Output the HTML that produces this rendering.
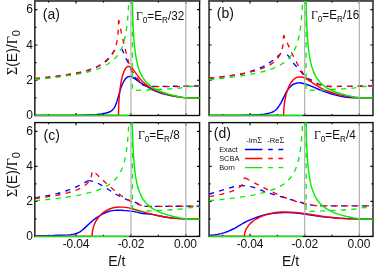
<!DOCTYPE html>
<html><head><meta charset="utf-8"><title>fig</title>
<style>
html,body{margin:0;padding:0;background:#fff;}
body{width:374px;height:271px;overflow:hidden;position:relative;font-family:"Liberation Sans",sans-serif;color:#111;}
.t{position:absolute;white-space:nowrap;line-height:1;}
#tx{position:absolute;left:0;top:0;width:374px;height:271px;will-change:transform;}
.yt{font-size:12px;width:20px;text-align:right;left:12.9px;}
.xt{font-size:12px;width:40px;text-align:center;letter-spacing:-0.15px;}
.pl{font-size:14px;}
.gm{font-size:12.8px;transform-origin:0 0;transform:scaleX(0.915);}
.sym{font-family:"Liberation Serif",serif;}
sub{font-size:0.7em;vertical-align:baseline;position:relative;top:0.33em;line-height:0;}
.yl{font-size:14px;transform-origin:0 0;transform:rotate(-90deg);}
.yl sub{font-size:0.78em;top:0.24em;}
.lg{font-size:7.4px;}
</style></head><body>
<svg width="374" height="271" viewBox="0 0 374 271" style="position:absolute;left:0;top:0">
<defs>
<clipPath id="cpa"><rect x="34.85" y="0.9" width="164.75" height="115.39999999999999"/></clipPath>
<clipPath id="cpb"><rect x="209.05" y="0.9" width="163.95" height="115.39999999999999"/></clipPath>
<clipPath id="cpc"><rect x="34.85" y="122.6" width="164.75" height="114.64999999999999"/></clipPath>
<clipPath id="cpd"><rect x="209.05" y="122.6" width="163.95" height="114.64999999999999"/></clipPath>
</defs>
<g stroke="#0a0a0a" stroke-width="1.35" fill="none">
<rect x="34.85" y="0.9" width="164.75" height="114.6"/>
<path d="M34.15,0.72H200.29999999999998" stroke="#4a4a4a" stroke-width="1.45"/>
<path d="M48.58,115.5v-1.6M48.58,0.9v1.6M76.04,115.5v-2.6M76.04,0.9v2.6M103.50,115.5v-1.6M103.50,0.9v1.6M130.95,115.5v-2.6M130.95,0.9v2.6M158.41,115.5v-1.6M158.41,0.9v1.6M185.87,115.5v-2.6M185.87,0.9v2.6M34.85,115.50h2.6M199.6,115.50h-2.6M34.85,97.87h1.6M199.6,97.87h-1.6M34.85,80.24h2.6M199.6,80.24h-2.6M34.85,62.61h1.6M199.6,62.61h-1.6M34.85,44.98h2.6M199.6,44.98h-2.6M34.85,27.35h1.6M199.6,27.35h-1.6M34.85,9.72h2.6M199.6,9.72h-2.6" stroke-width="1.2"/>
</g>
<g clip-path="url(#cpa)" fill="none" stroke-width="1.45" stroke-linejoin="round">
<path d="M34.9,115.5 76.8,115.5 90.8,114.9 96.3,114.6 98.8,114.3 101.3,114.0 103.8,113.5 106.3,113.0 107.8,112.5 109.3,112.0 110.3,111.5 111.3,110.9 112.3,110.1 112.8,109.6 113.8,108.4 114.3,107.7 115.3,105.8 116.3,103.4 116.8,101.9 117.8,98.6 119.8,91.4 120.8,88.2 122.3,84.3 123.8,81.3 124.8,79.7 125.3,79.0 126.3,77.9 126.8,77.5 127.8,76.8 128.3,76.6 129.3,76.4 129.8,76.4 130.8,76.5 131.8,76.8 132.8,77.3 134.3,78.3 138.3,81.2 140.8,82.9 142.8,84.1 146.8,86.3 150.3,88.5 152.3,89.6 154.3,90.6 156.8,91.6 159.3,92.5 162.3,93.5 166.3,94.6 170.8,95.6 176.3,96.5 182.3,97.4 184.8,97.6 187.8,97.7 202.3,97.9" stroke="#0000ff"/>
<path d="M34.9,78.6 43.9,77.7 53.9,76.6 62.9,75.4 70.8,74.1 77.3,73.3 80.3,72.7 83.3,72.0 86.8,70.9 90.8,69.4 94.8,67.8 96.8,66.9 98.3,66.1 100.3,64.9 101.8,63.9 103.3,62.9 104.8,61.7 107.3,59.4 109.8,56.8 110.8,55.5 113.3,52.1 115.8,48.9 116.8,47.7 117.3,47.2 117.8,46.9 118.3,46.8" stroke="#0000ff" stroke-width="1.35" stroke-dasharray="5.1 5.3"/>
<path d="M118.3,46.8 118.8,46.8 119.3,47.0 120.3,47.6 121.3,48.6 121.8,49.2 122.3,50.0 123.3,52.1 124.8,55.9 125.8,58.1 128.3,63.0 129.3,65.1 132.3,73.0 132.8,74.1 133.8,75.8 135.3,77.7 137.3,80.0 138.3,81.1 139.8,82.5 141.3,83.7 142.3,84.5 143.3,85.1 143.8,85.3 144.8,85.6 147.3,86.1 149.3,86.3 153.3,86.4 161.8,86.4 202.3,85.9" stroke="#0000ff" stroke-width="1.35" stroke-dasharray="5.1 5.3" stroke-dashoffset="6.50"/>
<path d="M34.9,115.5 118.5,115.5 118.7,105.3 119,100.1 119.3,96.3 119.7,92.0 120.1,88.5 120.7,84.6 121.3,80.8 122,77.6 122.9,74.6 123.7,72.2 124.5,70.2 125.3,68.8 126.3,67.6 126.7,67.2 127.2,66.8 127.8,66.5 128.3,66.4 129.2,66.5 130.1,66.8 131.1,67.5 132.2,68.5 134,70.6 138,76.1 140.2,78.9 142.5,81.4 145,83.8 147.6,85.8 150.3,87.6 153.3,89.3 156.6,90.9 159,91.8 161.6,92.7 164.3,93.6 167.2,94.4 170.4,95.2 173.7,95.9 177.1,96.6 180.4,97.2 183.1,97.5 186,97.7 191.9,97.8 202.2,97.9" stroke="#ff0000"/>
<path d="M34.9,78.6 48.6,77.2 54.9,76.5 60.7,75.7 66,74.9 71.1,74.0 75.8,73.1 80,72.2 84,71.2 87.7,70.2 91,69.1 94.2,68.0 96.9,66.8 99.5,65.5 102.4,63.9 104.6,62.5 106.5,61.1 108.2,59.6 109.8,57.8 111.2,56.1 112.4,54.2 113.5,52.2 114.5,50.1 115.4,47.5 116.1,45.1 116.8,42.1 117.4,39.0 117.8,35.8 118,33.0 118.3,28.7 118.6,19.9" stroke="#ff0000" stroke-width="1.35" stroke-dasharray="5.1 5.3"/>
<path d="M118.6,19.9 122,35.6 124.9,48.0 127.4,57.8 128.6,62.3 129.6,65.5 130.3,67.4 131.1,69.3 131.8,70.7 132.5,71.8 134.2,74.2 136,76.2 137.8,79.0 138.5,80.0 139.7,81.3 141.3,82.7 142.2,83.4 143.2,84.0 145.1,84.9 147.2,85.9 147.8,86.2 148.7,86.4 150.6,86.6 180.9,86.6 183.9,86.5 193.4,86.1 202.2,85.9" stroke="#ff0000" stroke-width="1.35" stroke-dasharray="5.1 5.3" stroke-dashoffset="1.47"/>
<path d="M34.85,115.5H129.0" stroke="#00f000" stroke-width="1.3"/>
<path d="M131.1,-25.5 131.8,-25.5 132.3,4.0 132.9,21.3 133.3,30.0 133.7,36.7 134.1,42.0 134.7,47.6 135.2,52.2 135.9,56.7 136.7,61.1 137.5,64.6 138.5,68.0 139.6,71.1 140.8,73.9 142.2,76.6 143,77.9 144,79.3 145.9,81.7 147,82.9 148.1,84.0 150.4,85.9 153.2,87.8 156.2,89.5 159.6,91.1 163.4,92.5 168,94.0 173.4,95.4 179.3,96.7 185.9,97.9 202.2,97.9" stroke="#00f000"/>
<path d="M34.9,79.5 43.9,78.7 52.1,77.8 59.8,76.9 66.8,75.9 73.3,74.9 79.2,73.8 84.5,72.7 89.5,71.5 93.9,70.2 98,68.8 101.7,67.3 105,65.7 108,64.0 110.8,62.1 113.2,60.1 115.4,57.9 117.2,55.8 118.9,53.4 120.4,50.7 121.8,47.8 122.9,44.9 124,41.4 124.9,37.6 125.7,33.6 126.4,29.4 127.1,24.1 127.7,18.7 128.2,11.8 128.6,5.1 129,-3.6 129.7,-25.5 130.8,-25.5" stroke="#00f000" stroke-width="1.35" stroke-dasharray="5.1 5.3"/>
<path d="M132.4,-1.1 132.4,90.5 152.9,89.7 169.1,88.9 175.8,88.4 181.2,87.9 184.6,87.4 187.2,86.9 190.3,86.5 195.5,86.2 202.2,86.0" stroke="#00f000" stroke-width="1.35" stroke-dasharray="5.1 5.3" stroke-dashoffset="8.76"/>
<line x1="130.95" x2="130.95" y1="0.9" y2="114.75" stroke="#aaaaaa" stroke-width="1.1"/>
<line x1="185.87" x2="185.87" y1="0.9" y2="114.75" stroke="#aaaaaa" stroke-width="1.1"/>
</g>
<g stroke="#0a0a0a" stroke-width="1.35" fill="none">
<rect x="209.05" y="0.9" width="163.95" height="114.6"/>
<path d="M208.35000000000002,0.72H373.7" stroke="#4a4a4a" stroke-width="1.45"/>
<path d="M222.71,115.5v-1.6M222.71,0.9v1.6M250.04,115.5v-2.6M250.04,0.9v2.6M277.36,115.5v-1.6M277.36,0.9v1.6M304.69,115.5v-2.6M304.69,0.9v2.6M332.01,115.5v-1.6M332.01,0.9v1.6M359.34,115.5v-2.6M359.34,0.9v2.6M209.05,115.50h2.6M373.0,115.50h-2.6M209.05,97.87h1.6M373.0,97.87h-1.6M209.05,80.24h2.6M373.0,80.24h-2.6M209.05,62.61h1.6M373.0,62.61h-1.6M209.05,44.98h2.6M373.0,44.98h-2.6M209.05,27.35h1.6M373.0,27.35h-1.6M209.05,9.72h2.6M373.0,9.72h-2.6" stroke-width="1.2"/>
</g>
<g clip-path="url(#cpb)" fill="none" stroke-width="1.45" stroke-linejoin="round">
<path d="M209.1,115.5 239.6,115.5 253.6,115.0 259.6,114.6 264.1,114.1 266.6,113.7 268.6,113.3 270.1,112.9 271.6,112.4 272.6,112.0 273.6,111.5 275.1,110.5 276.1,109.7 277.1,108.6 278.6,106.7 279.6,105.2 281.1,102.6 282.6,99.7 285.1,94.6 286.6,91.7 288.1,89.3 289.6,87.4 291.1,85.9 292.1,85.1 293.1,84.4 294.1,84.0 295.6,83.4 297.1,83.0 298.1,82.9 299.6,82.8 301.1,83.0 303.1,83.5 306.1,84.3 308.1,85.0 311.1,86.1 313.6,87.2 320.1,90.0 323.1,91.1 326.6,92.4 330.1,93.5 334.6,94.9 337.6,95.6 341.1,96.4 344.6,97.0 347.1,97.3 349.6,97.6 353.1,97.8 359.6,97.9 367.6,97.8 375.6,97.9" stroke="#0000ff"/>
<path d="M209.1,78.3 217.1,77.4 225.6,76.4 232.1,75.5 241.1,74.1 243.6,73.6 246.6,72.7 256.1,69.5 260.1,67.9 263.1,66.6 265.6,65.3 268.1,63.8 272.1,61.0 275.1,58.7 278.6,55.6 281.1,53.0 282.1,52.1 282.6,51.8 283.1,51.6 283.6,51.6" stroke="#0000ff" stroke-width="1.35" stroke-dasharray="5.1 5.3"/>
<path d="M283.6,51.6 284.1,51.7 284.6,51.9 285.1,52.3 285.6,52.8 286.6,53.9 289.1,56.9 292.6,61.9 294.6,64.5 296.6,66.8 300.6,71.4 303.1,74.3 305.1,76.4 306.6,77.6 308.1,78.6 313.6,81.2 314.6,81.7 318.1,83.9 319.6,84.6 321.1,85.0 326.6,86.1 328.6,86.3 331.1,86.5 350.6,86.3 366.1,85.9 375.6,85.8" stroke="#0000ff" stroke-width="1.35" stroke-dasharray="5.1 5.3" stroke-dashoffset="5.58"/>
<path d="M209.1,115.5 283.5,115.5 283.6,113.7 283.8,110.0 284.1,106.4 284.5,102.9 284.9,100.3 285.6,96.8 286.2,94.0 287.2,90.8 288.2,88.2 289.2,85.7 290.5,83.5 291.7,81.7 293.1,80.1 294.4,78.8 295.9,77.8 297.4,77.2 298.9,76.9 300.3,76.9 301.7,77.0 303.2,77.4 304.7,78.0 306.3,78.8 308.2,80.0 314.5,84.2 317.3,85.9 319.7,87.3 322,88.6 325.3,90.1 328.9,91.5 332.6,92.8 336.5,94.0 340.9,95.1 345.4,96.0 349.9,96.8 353.6,97.3 356.6,97.5 360.8,97.7 375.6,97.9" stroke="#ff0000"/>
<path d="M209.1,78.3 220.5,77.0 230.6,75.7 239.7,74.3 243.6,73.5 247.4,72.7 250.9,71.9 254.1,71.1 257.1,70.2 260,69.2 262.5,68.3 264.8,67.4 267.7,66.0 270,64.8 271.8,63.7 273.4,62.5 274.9,61.2 276.3,59.9 277.5,58.5 278.6,57.0 279.5,55.4 280.5,53.6 281.2,51.9 281.9,49.9 282.4,47.8 282.8,45.7 283.1,43.9 283.4,41.4 283.5,39.5 283.6,35.0" stroke="#ff0000" stroke-width="1.35" stroke-dasharray="5.1 5.3"/>
<path d="M283.6,35.0 288.6,45.9 292.9,55.2 296.8,62.7 298.5,66.0 300.2,68.8 301.7,71.2 303.2,73.5 304.7,75.6 306.1,77.3 307.4,78.7 308.8,79.9 310.2,80.9 311.5,81.8 313.6,82.7 317.1,84.0 318.9,84.6 320.1,84.8 322.2,85.2 325.6,85.9 330,86.5 350.7,86.3 365.8,85.9 375.6,85.8" stroke="#ff0000" stroke-width="1.35" stroke-dasharray="5.1 5.3" stroke-dashoffset="1.89"/>
<path d="M209.05,115.5H302.7" stroke="#00f000" stroke-width="1.3"/>
<path d="M304.8,-25.5 305.5,-25.5 306.1,4.0 306.6,21.3 307,30.0 307.4,36.7 307.8,42.0 308.4,47.6 308.9,52.2 309.6,56.7 310.4,61.1 311.2,64.6 312.2,68.0 313.3,71.1 314.5,73.9 315.9,76.6 316.7,77.9 317.7,79.3 319.6,81.7 320.7,82.9 321.8,84.0 324.1,85.9 326.8,87.8 329.8,89.5 333.2,91.1 336.9,92.5 341.6,94.0 346.9,95.4 352.8,96.7 359.3,97.9 375.6,97.9" stroke="#00f000"/>
<path d="M209.1,79.5 218.1,78.7 226.3,77.8 233.9,76.9 240.9,75.9 247.3,74.9 253.2,73.8 258.5,72.7 263.4,71.5 267.8,70.2 271.9,68.8 275.6,67.3 278.9,65.7 281.9,64.0 284.6,62.1 287.1,60.1 289.2,57.9 291,55.8 292.7,53.4 294.2,50.7 295.5,47.8 296.6,44.9 297.7,41.4 298.7,37.6 299.5,33.6 300.2,29.4 300.9,24.1 301.4,18.7 302,11.8 302.4,5.1 302.8,-3.6 303.5,-25.5 304.6,-25.5" stroke="#00f000" stroke-width="1.35" stroke-dasharray="5.1 5.3"/>
<path d="M306.1,-1.1 306.1,90.5 326.5,89.7 342.7,88.9 349.4,88.4 354.7,87.9 358.1,87.4 360.7,86.9 363.7,86.5 368.9,86.2 375.6,86.0" stroke="#00f000" stroke-width="1.35" stroke-dasharray="5.1 5.3" stroke-dashoffset="8.69"/>
<line x1="304.69" x2="304.69" y1="0.9" y2="114.75" stroke="#aaaaaa" stroke-width="1.1"/>
<line x1="359.34" x2="359.34" y1="0.9" y2="114.75" stroke="#aaaaaa" stroke-width="1.1"/>
</g>
<g stroke="#0a0a0a" stroke-width="1.35" fill="none">
<rect x="34.85" y="122.6" width="164.75" height="113.85"/>
<path d="M48.58,236.45v-1.6M48.58,122.6v1.6M76.04,236.45v-2.6M76.04,122.6v2.6M103.50,236.45v-1.6M103.50,122.6v1.6M130.95,236.45v-2.6M130.95,122.6v2.6M158.41,236.45v-1.6M158.41,122.6v1.6M185.87,236.45v-2.6M185.87,122.6v2.6M34.85,236.45h2.6M199.6,236.45h-2.6M34.85,218.93h1.6M199.6,218.93h-1.6M34.85,201.42h2.6M199.6,201.42h-2.6M34.85,183.90h1.6M199.6,183.90h-1.6M34.85,166.39h2.6M199.6,166.39h-2.6M34.85,148.87h1.6M199.6,148.87h-1.6M34.85,131.36h2.6M199.6,131.36h-2.6" stroke-width="1.2"/>
</g>
<g clip-path="url(#cpc)" fill="none" stroke-width="1.45" stroke-linejoin="round">
<path d="M34.9,235.6 52.9,235.5 59.4,235.3 64.3,235.1 67.8,234.9 70.8,234.6 73.8,234.1 76.3,233.5 77.8,232.9 78.8,232.5 80.3,231.6 81.8,230.5 84.3,228.4 90.3,222.7 92.8,220.5 94.3,219.3 96.3,217.9 100.8,215.0 102.8,213.8 104.3,213.1 105.8,212.5 107.8,211.7 109.3,211.3 110.8,210.9 114.3,210.4 117.3,210.2 120.8,210.3 125.8,210.6 131.3,211.1 134.3,211.6 140.3,213.0 142.8,213.5 145.3,213.8 149.8,214.1 151.8,214.3 153.3,214.6 158.8,215.8 163.3,216.7 168.3,217.5 173.3,218.1 178.3,218.5 183.8,218.7 191.8,218.9 202.3,219.0" stroke="#0000ff"/>
<path d="M34.9,197.7 37.4,197.4 41.9,196.7 50.4,195.1 56.9,193.6 60.4,192.7 63.4,191.8 65.8,191.0 68.8,189.9 75.3,187.3 77.8,186.2 82.8,183.7 83.8,183.2 86.3,181.7 87.3,181.2 88.3,180.9 89.3,180.7" stroke="#0000ff" stroke-width="1.35" stroke-dasharray="5.1 5.3"/>
<path d="M89.3,180.7 90.8,180.9 92.8,181.3 95.8,182.4 97.8,183.2 99.3,184.0 100.8,184.8 106.3,188.2 113.8,193.0 117.3,195.0 120.8,196.8 123.3,198.0 125.8,199.1 127.8,199.8 133.8,201.8 135.8,202.7 140.3,204.8 141.8,205.4 143.3,205.8 144.8,206.1 146.8,206.3 148.8,206.4 151.3,206.4 202.3,206.1" stroke="#0000ff" stroke-width="1.35" stroke-dasharray="5.1 5.3" stroke-dashoffset="1.38"/>
<path d="M34.9,236.4 92,236.4 92.2,233.1 92.6,230.3 93.2,227.9 94,225.3 95,223.0 96.2,220.6 97.6,218.5 99.2,216.4 101,214.5 102.9,212.8 105,211.3 107.1,210.1 109.4,209.0 111.7,208.2 114.2,207.5 116.8,207.2 119.6,207.0 122.4,207.1 125.5,207.4 128.6,207.9 131.1,208.5 134,209.2 146.7,212.9 153.5,214.6 157.3,215.5 161.2,216.3 165,217.0 168.6,217.5 174.3,218.2 180.7,218.6 189.4,218.8 202.2,219.0" stroke="#ff0000"/>
<path d="M34.9,198.5 42.8,197.5 50.1,196.4 56.5,195.3 62.4,194.1 67.5,192.9 71.9,191.6 76.9,189.8 78.6,189.1 80.4,188.2 81.9,187.4 83.3,186.6 84.5,185.7 85.6,184.9 86.6,184.0 87.6,183.0 88.4,182.0 89.2,180.9 89.9,179.7 90.5,178.5 90.9,177.5 91.3,176.2 91.6,175.1 91.8,173.5 92,172.2 92.1,169.8" stroke="#ff0000" stroke-width="1.35" stroke-dasharray="5.1 5.3"/>
<path d="M92.1,169.8 99.9,177.4 106.9,183.9 113.1,189.3 116,191.6 118.7,193.8 121.3,195.7 123.8,197.4 126.3,198.9 128.6,200.3 131,201.5 133.3,202.6 135.6,203.5 138,204.4 141,205.3 143.9,205.9 146.3,206.3 148.9,206.4 159.8,206.4 202.2,206.1" stroke="#ff0000" stroke-width="1.35" stroke-dasharray="5.1 5.3" stroke-dashoffset="5.63"/>
<path d="M34.85,236.45H129.0" stroke="#00f000" stroke-width="1.3"/>
<path d="M131.1,96.3 131.8,96.3 132.3,125.7 132.9,142.8 133.3,151.5 133.7,158.1 134.1,163.4 134.7,169.0 135.2,173.5 135.9,178.1 136.7,182.4 137.5,185.9 138.5,189.2 139.6,192.3 140.8,195.2 142.2,197.8 143,199.1 144,200.5 145.9,202.9 147,204.1 148.1,205.1 150.4,207.1 153.2,208.9 156.2,210.6 159.6,212.2 163.4,213.6 168,215.1 173.4,216.5 179.3,217.8 185.9,218.9 202.2,218.9" stroke="#00f000"/>
<path d="M34.9,200.7 43.9,199.9 52.1,199.0 59.8,198.1 66.8,197.1 73.3,196.1 79.2,195.1 84.5,193.9 89.5,192.7 93.9,191.4 98,190.0 101.7,188.6 105,187.0 108,185.3 110.8,183.4 113.2,181.4 115.4,179.2 117.2,177.1 118.9,174.7 120.4,172.1 121.8,169.2 122.9,166.4 124,162.9 124.9,159.1 125.7,155.0 126.4,150.9 127.1,145.6 127.7,140.3 128.2,133.5 128.6,126.8 129,118.1 129.7,96.3 130.8,96.3" stroke="#00f000" stroke-width="1.35" stroke-dasharray="5.1 5.3"/>
<path d="M132.4,120.6 132.4,211.6 152.9,210.8 169.1,210.0 175.8,209.5 181.2,209.0 184.6,208.6 187.2,208.0 190.3,207.7 195.5,207.4 202.2,207.2" stroke="#00f000" stroke-width="1.35" stroke-dasharray="5.1 5.3" stroke-dashoffset="9.27"/>
<line x1="130.95" x2="130.95" y1="122.6" y2="235.7" stroke="#aaaaaa" stroke-width="1.1"/>
<line x1="185.87" x2="185.87" y1="122.6" y2="235.7" stroke="#aaaaaa" stroke-width="1.1"/>
</g>
<g stroke="#0a0a0a" stroke-width="1.35" fill="none">
<rect x="209.05" y="122.6" width="163.95" height="113.85"/>
<path d="M222.71,236.45v-1.6M222.71,122.6v1.6M250.04,236.45v-2.6M250.04,122.6v2.6M277.36,236.45v-1.6M277.36,122.6v1.6M304.69,236.45v-2.6M304.69,122.6v2.6M332.01,236.45v-1.6M332.01,122.6v1.6M359.34,236.45v-2.6M359.34,122.6v2.6M209.05,236.45h2.6M373.0,236.45h-2.6M209.05,218.93h1.6M373.0,218.93h-1.6M209.05,201.42h2.6M373.0,201.42h-2.6M209.05,183.90h1.6M373.0,183.90h-1.6M209.05,166.39h2.6M373.0,166.39h-2.6M209.05,148.87h1.6M373.0,148.87h-1.6M209.05,131.36h2.6M373.0,131.36h-2.6" stroke-width="1.2"/>
</g>
<g clip-path="url(#cpd)" fill="none" stroke-width="1.45" stroke-linejoin="round">
<path d="M209.1,235.5 211.1,235.3 213.1,235.1 217.6,234.4 221.1,233.6 224.6,232.6 227.1,231.7 229.1,230.9 232.1,229.5 235.1,228.1 237.6,226.7 243.6,223.0 246.6,221.4 249.6,220.1 255.1,217.9 257.6,217.0 260.1,216.2 262.6,215.5 265.1,214.8 267.6,214.3 270.6,213.8 273.1,213.4 275.6,213.1 280.6,212.7 284.1,212.6 287.6,212.6 292.6,212.8 296.6,213.1 300.6,213.6 319.1,216.3 322.6,216.8 325.6,217.1 331.6,217.5 338.6,218.1 345.1,218.5 353.1,218.8 363.1,219.0 375.6,219.1" stroke="#0000ff"/>
<path d="M209.1,194.0 211.1,193.5 228.1,188.3 234.6,186.6 236.6,186.1 238.1,185.8 239.1,185.7 240.6,185.6" stroke="#0000ff" stroke-width="1.35" stroke-dasharray="5.1 5.3"/>
<path d="M240.6,185.6 243.1,185.7 246.1,186.0 250.6,186.6 253.1,187.2 255.6,188.0 261.1,190.2 263.6,191.2 270.1,193.3 277.1,195.5 287.1,198.5 297.6,201.5 308.6,204.5 310.6,204.9 312.1,205.2 316.6,205.7 319.1,205.8 322.6,205.9 375.6,205.9" stroke="#0000ff" stroke-width="1.35" stroke-dasharray="5.1 5.3" stroke-dashoffset="0.65"/>
<path d="M209.1,236.4 244.3,236.4 244.6,234.0 244.8,232.7 245.1,231.7 245.9,229.6 246.9,227.8 248.3,225.8 249.9,223.9 251.8,222.1 253.9,220.5 256.2,219.0 258.8,217.5 261.5,216.3 264.5,215.1 267.5,214.2 270.8,213.4 274.2,212.8 277.6,212.3 281.9,212.0 286.2,211.9 290.8,212.1 295.7,212.4 299.8,212.9 304.3,213.5 320.3,216.0 327.1,216.9 333.8,217.7 340.1,218.2 346.5,218.6 354,218.9 363.4,219.0 375.6,219.1" stroke="#ff0000"/>
<path d="M209.1,196.7 213.4,195.9 217.5,195.1 221.2,194.3 224.6,193.4 228.7,192.3 231.5,191.4 234.2,190.3 236.5,189.2 238.3,188.1 239.9,186.9 241.3,185.6 242.4,184.2 243.2,182.8 243.6,181.9 243.9,181.1 244.2,180.0 244.4,177.5" stroke="#ff0000" stroke-width="1.35" stroke-dasharray="5.1 5.3"/>
<path d="M244.4,177.5 254.8,183.1 264.1,187.9 272.4,192.0 280.1,195.5 287.1,198.3 290.3,199.6 293.6,200.7 296.9,201.8 300,202.7 305.6,204.0 309.5,204.8 313.2,205.3 316.3,205.6 319.7,205.8 330.4,205.9 375.6,205.9" stroke="#ff0000" stroke-width="1.35" stroke-dasharray="5.1 5.3" stroke-dashoffset="9.67"/>
<path d="M209.05,236.45H302.7" stroke="#00f000" stroke-width="1.3"/>
<path d="M304.8,96.3 305.5,96.3 306.1,125.7 306.6,142.8 307,151.5 307.4,158.1 307.8,163.4 308.4,169.0 308.9,173.5 309.6,178.1 310.4,182.4 311.2,185.9 312.2,189.2 313.3,192.3 314.5,195.2 315.9,197.8 316.7,199.1 317.7,200.5 319.6,202.9 321.8,205.1 324.1,207.1 326.8,208.9 329.8,210.6 333.2,212.2 336.9,213.6 341.6,215.1 346.9,216.5 352.8,217.8 359.3,218.9 375.6,218.9" stroke="#00f000"/>
<path d="M209.1,200.7 218.1,199.9 226.3,199.0 233.9,198.1 240.9,197.1 247.3,196.1 253.2,195.1 258.5,193.9 263.4,192.7 267.8,191.4 271.9,190.0 275.6,188.6 278.9,187.0 281.9,185.3 284.6,183.4 287.1,181.4 289.2,179.2 291,177.1 292.7,174.7 294.2,172.1 295.5,169.2 296.6,166.4 297.7,162.9 298.7,159.1 299.5,155.0 300.2,150.9 300.9,145.6 301.4,140.3 302,133.5 302.4,126.8 302.8,118.1 303.5,96.3 304.6,96.3" stroke="#00f000" stroke-width="1.35" stroke-dasharray="5.1 5.3"/>
<path d="M306.1,120.6 306.1,211.6 326.5,210.8 342.7,210.0 349.4,209.5 354.7,209.0 358.1,208.6 360.7,208.0 363.7,207.7 368.9,207.4 375.6,207.2" stroke="#00f000" stroke-width="1.35" stroke-dasharray="5.1 5.3" stroke-dashoffset="9.40"/>
<line x1="304.69" x2="304.69" y1="122.6" y2="235.7" stroke="#aaaaaa" stroke-width="1.1"/>
<line x1="359.34" x2="359.34" y1="122.6" y2="235.7" stroke="#aaaaaa" stroke-width="1.1"/>
</g>
<g stroke-width="1.3" fill="none">
<path d="M244.9,149.5H262.4M268.2,149.5H272.8M278.4,149.5H283.2" stroke="#0000ff"/>
<path d="M244.9,158.5H262.4M268.2,158.5H272.8M278.4,158.5H283.2" stroke="#ff0000"/>
<path d="M244.9,167.7H262.4M268.2,167.7H272.8M278.4,167.7H283.2" stroke="#00f000"/>
</g>
</svg>
<div id="tx">
<div class="t yt" style="top:109.0px">0</div>
<div class="t yt" style="top:73.7px">2</div>
<div class="t yt" style="top:38.5px">4</div>
<div class="t yt" style="top:3.2px">6</div>
<div class="t yt" style="top:229.9px">0</div>
<div class="t yt" style="top:194.9px">2</div>
<div class="t yt" style="top:159.9px">4</div>
<div class="t yt" style="top:124.9px">6</div>
<div class="t xt" style="left:56.0px;top:238.0px">-0.04</div>
<div class="t xt" style="left:111.0px;top:238.0px">-0.02</div>
<div class="t xt" style="left:165.4px;top:238.0px">0.00</div>
<div class="t pl" style="left:108.2px;top:254px">E/t</div>
<div class="t xt" style="left:230.0px;top:238.0px">-0.04</div>
<div class="t xt" style="left:284.7px;top:238.0px">-0.02</div>
<div class="t xt" style="left:338.8px;top:238.0px">0.00</div>
<div class="t pl" style="left:282.0px;top:254px">E/t</div>
<div class="t pl" style="left:42.8px;top:7.1px">(a)</div>
<div class="t pl" style="left:216.8px;top:5.7px">(b)</div>
<div class="t pl" style="left:43.6px;top:127.5px">(c)</div>
<div class="t pl" style="left:213.8px;top:125.9px">(d)</div>
<div class="t gm" style="left:136.0px;top:10px"><span class="sym">&Gamma;</span><sub>0</sub>=E<sub>R</sub>/32</div>
<div class="t gm" style="left:311.0px;top:9px"><span class="sym">&Gamma;</span><sub>0</sub>=E<sub>R</sub>/16</div>
<div class="t gm" style="left:138.0px;top:129px"><span class="sym">&Gamma;</span><sub>0</sub>=E<sub>R</sub>/8</div>
<div class="t gm" style="left:314.0px;top:129px"><span class="sym">&Gamma;</span><sub>0</sub>=E<sub>R</sub>/4</div>
<div class="t yl" style="left:4.9px;top:75.2px"><span class="sym">&Sigma;</span>(E)/<span class="sym">&Gamma;</span><sub>0</sub></div>
<div class="t yl" style="left:4.9px;top:197.3px"><span class="sym">&Sigma;</span>(E)/<span class="sym">&Gamma;</span><sub>0</sub></div>
<div class="t lg" style="left:246.2px;top:137px;font-size:7.6px">-Im<span class="sym" style="font-size:8.2px">&Sigma;</span></div>
<div class="t lg" style="left:267.2px;top:137px;font-size:7.6px">-Re<span class="sym" style="font-size:8.2px">&Sigma;</span></div>
<div class="t lg" style="left:219.2px;top:146px">Exact</div>
<div class="t lg" style="left:219.2px;top:155px">SCBA</div>
<div class="t lg" style="left:219.2px;top:164px">Born</div>
</div>
</body></html>
